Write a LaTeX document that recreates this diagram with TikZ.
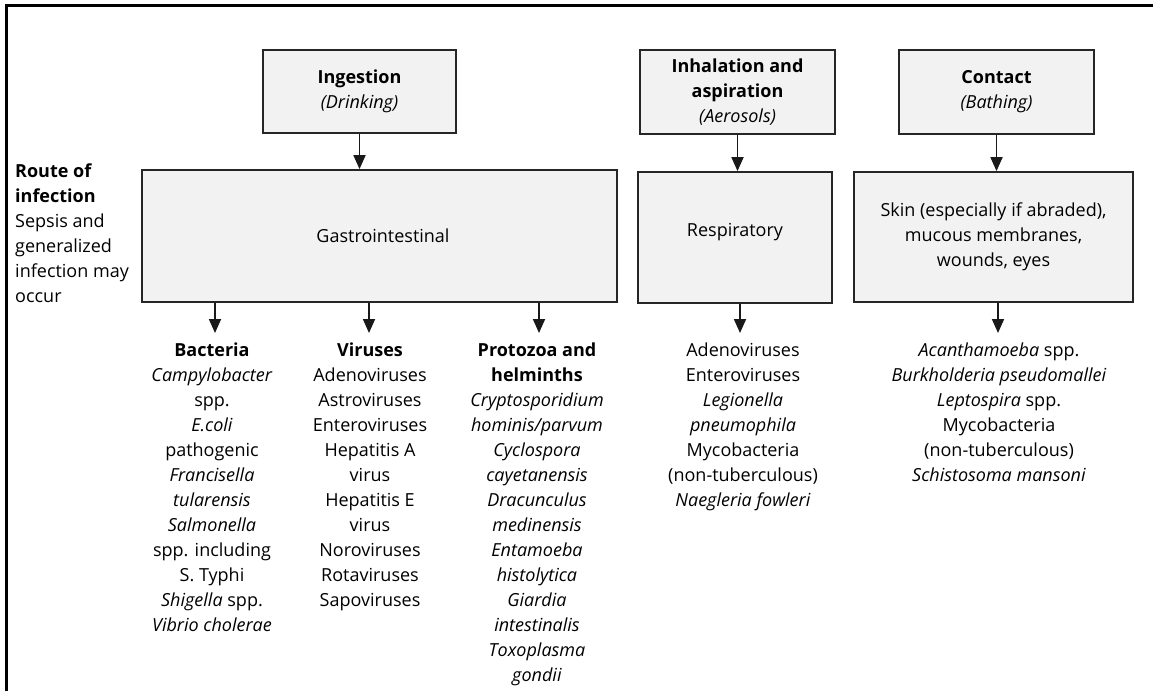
\documentclass[tikz,border=0pt]{standalone}
\usepackage{fontspec}
\setmainfont{Open Sans}
\usetikzlibrary{arrows.meta}
\begin{document}
\begin{tikzpicture}[x=1pt,y=-1pt,
  every node/.style={font=\fontsize{18}{25}\selectfont},
  routebox/.style={draw=black!85, fill=gray!10, line width=1.8pt, align=center, inner sep=0pt},
  arr/.style={line width=1.8pt, draw=black!90, -{Triangle[width=12pt,length=14pt]}},
  listtxt/.style={align=center, anchor=north, inner sep=0pt},
  frameline/.style={line width=3pt, draw=black}]
\useasboundingbox (0,0) rectangle (1153,691);
\draw[frameline] (6,691) -- (6,5) -- (1153,5);

% top boxes
\node[routebox, minimum width=193pt, minimum height=83pt] (ing) at (359.5,91.5) {\textbf{Ingestion}\\\textit{(Drinking)}};
\node[routebox, minimum width=195pt, minimum height=84pt] (inh) at (737.5,92) {\textbf{Inhalation and}\\\textbf{aspiration}\\\textit{(Aerosols)}};
\node[routebox, minimum width=195pt, minimum height=84pt] (con) at (996.5,92) {\textbf{Contact}\\\textit{(Bathing)}};

% route boxes
\node[routebox, minimum width=475pt, minimum height=132pt] (gi) at (379.5,236) {\hspace*{7pt}Gastrointestinal};
\node[routebox, minimum width=194pt, minimum height=131pt] (resp) at (735,237.5) {\raisebox{15pt}{Respiratory}};
\node[routebox, minimum width=279pt, minimum height=130pt] (skin) at (993.5,237) {Skin (especially if abraded),\\mucous membranes,\\wounds, eyes};

% left label
\node[align=left, anchor=north west, inner sep=0pt] (route) at (15,159.5) {\strut\textbf{Route of}\\\textbf{infection}\\Sepsis and\\generalized\\infection may\\occur};

% arrows between boxes
\draw[arr] (ing.south) -- (ing.south |- gi.north);
\draw[arr] (inh.south) -- (inh.south |- resp.north);
\draw[arr] (con.south) -- (con.south |- skin.north);

% arrow tips toward lists
\coordinate (tb) at (215,333);
\coordinate (tv) at (369,333);
\coordinate (tp) at (539,333);
\coordinate (tr) at (740,333);
\coordinate (tc) at (998,333);
\draw[arr] (tb |- gi.south) -- (tb);
\draw[arr] (tv |- gi.south) -- (tv);
\draw[arr] (tp |- gi.south) -- (tp);
\draw[arr] (tr |- resp.south) -- (tr);
\draw[arr] (tc |- skin.south) -- (tc);

% lists
\node[listtxt] (bact) at (212,338.5) {\strut\textbf{Bacteria}\\\textit{Campylobacter}\\spp.\\\textit{E.coli}\\pathogenic\\\textit{Francisella}\\\textit{tularensis}\\\textit{Salmonella}\\spp. including\\S. Typhi\\\textit{Shigella} spp.\\\textit{Vibrio cholerae}};
\node[listtxt] (vir) at (370,338.5) {\strut\textbf{Viruses}\\Adenoviruses\\Astroviruses\\Enteroviruses\\Hepatitis A\\virus\\Hepatitis E\\virus\\Noroviruses\\Rotaviruses\\Sapoviruses};
\node[listtxt] (prot) at (537,338.5) {\strut\textbf{Protozoa and}\\\textbf{helminths}\\\textit{Cryptosporidium}\\\textit{hominis/parvum}\\\textit{Cyclospora}\\\textit{cayetanensis}\\\textit{Dracunculus}\\\textit{medinensis}\\\textit{Entamoeba}\\\textit{histolytica}\\\textit{Giardia}\\\textit{intestinalis}\\\textit{Toxoplasma}\\\textit{gondii}};
\node[listtxt] (rlist) at (743,338.5) {\strut Adenoviruses\\Enteroviruses\\\textit{Legionella}\\\textit{pneumophila}\\Mycobacteria\\(non-tuberculous)\\\textit{Naegleria fowleri}};
\node[listtxt] (clist) at (999,338.5) {\strut\textit{Acanthamoeba} spp.\\\textit{Burkholderia pseudomallei}\\\textit{Leptospira} spp.\\Mycobacteria\\(non-tuberculous)\\\textit{Schistosoma mansoni}};
\end{tikzpicture}
\end{document}
